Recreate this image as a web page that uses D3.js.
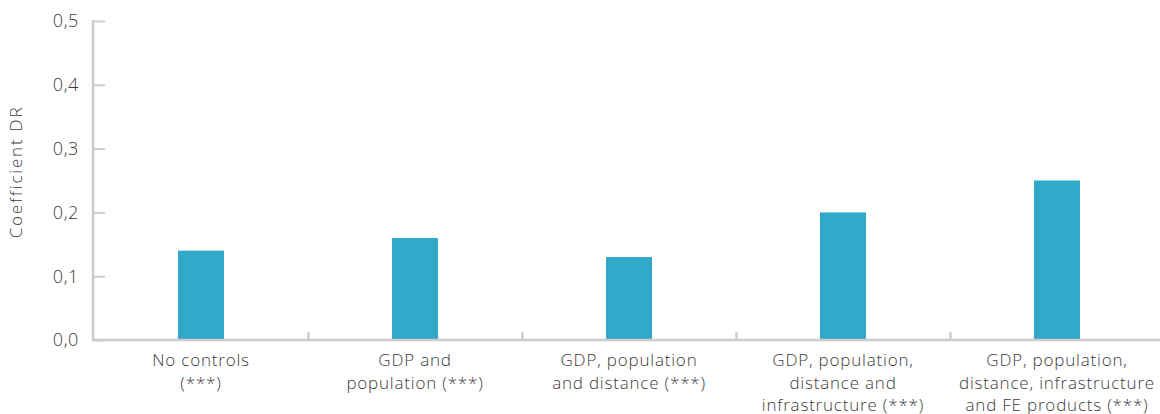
<!DOCTYPE html>
<html><head><meta charset="utf-8">
<script src="https://cdn.jsdelivr.net/npm/d3@7"></script>
<style>body{margin:0;background:#fff}svg{display:block}</style>
</head><body><svg id="c" width="1160" height="414"></svg>
<script>
const categories = [
  ["No controls", "(***)"],
  ["GDP and", "population (***)"],
  ["GDP, population", "and distance (***)"],
  ["GDP, population,", "distance and", "infrastructure (***)"],
  ["GDP, population,", "distance, infrastructure", "and FE products (***)"]
];
const values = [0.14, 0.16, 0.13, 0.20, 0.25];
const yTicks = [0, 0.1, 0.2, 0.3, 0.4, 0.5];
const yTitle = "Coefficient DR";

const svg = d3.select("#c");
const font = "'Open Sans', Roboto, sans-serif";
const textCol = "#3c3c3c", axisCol = "#cccccc", barCol = "#31a9c9";
const x0 = 94, x1 = 1164, yTop = 21, yBot = 340;

const ids = categories.map((d, i) => i);
const x = d3.scaleBand().domain(ids).range([x0, x1]).paddingInner(0).paddingOuter(0);
const y = d3.scaleLinear().domain([0, 0.5]).range([yBot, yTop]);
const bw = 46;

// bars
svg.append("g").selectAll("rect").data(values).join("rect")
  .attr("x", (d, i) => x(i) + x.bandwidth() / 2 - bw / 2)
  .attr("width", bw)
  .attr("y", d => y(d))
  .attr("height", d => y(0) - y(d))
  .attr("fill", barCol);

// y axis
const ya = svg.append("g").attr("transform", `translate(${x0 - 1},0)`)
  .call(d3.axisRight(y).tickValues(yTicks).tickSize(12).tickFormat(""));
ya.select(".domain").remove();
ya.selectAll(".tick line").attr("stroke", axisCol).attr("stroke-width", 2);
svg.append("line").attr("x1", x0 - 1).attr("x2", x0 - 1).attr("y1", yTop - 1).attr("y2", yBot + 1)
  .attr("stroke", axisCol).attr("stroke-width", 2.5);
svg.append("g").selectAll("text").data(yTicks).join("text")
  .attr("x", 79).attr("y", d => y(d)).attr("dy", "0.35em")
  .attr("text-anchor", "end").attr("font-family", font).attr("font-size", 18)
  .attr("letter-spacing", 0.6)
  .attr("font-weight", 300).attr("fill", textCol)
  .text(d => d3.format(".1f")(d).replace(".", ","));

// x axis
svg.append("line").attr("x1", x0 - 2).attr("x2", 1160).attr("y1", yBot).attr("y2", yBot)
  .attr("stroke", axisCol).attr("stroke-width", 2.5);
const xa = svg.append("g").attr("transform", `translate(0,${yBot})`)
  .call(d3.axisTop(d3.scaleLinear().domain([x0, x1]).range([x0, x1]))
    .tickValues(ids.slice(1).map(i => x(i))).tickSize(8).tickFormat(""));
xa.select(".domain").remove();
xa.selectAll(".tick line").attr("stroke", axisCol).attr("stroke-width", 2.5);

const lab = svg.append("g").selectAll("text").data(categories).join("text")
  .attr("text-anchor", "middle").attr("font-family", font).attr("font-size", 17)
  .attr("letter-spacing", 0.8)
  .attr("font-weight", 300).attr("fill", textCol)
  .attr("transform", (d, i) => `translate(${x(i) + x.bandwidth() / 2},366)`);
lab.selectAll("tspan").data(d => d).join("tspan")
  .attr("x", 0).attr("y", (d, j) => j * 22.5).text(d => d);

// y title
svg.append("text").attr("transform", "translate(22,172) rotate(-90)")
  .attr("text-anchor", "middle").attr("font-family", font).attr("font-size", 17)
  .attr("letter-spacing", 1.8)
  .attr("font-weight", 300).attr("fill", textCol).text(yTitle);
</script></body></html>
